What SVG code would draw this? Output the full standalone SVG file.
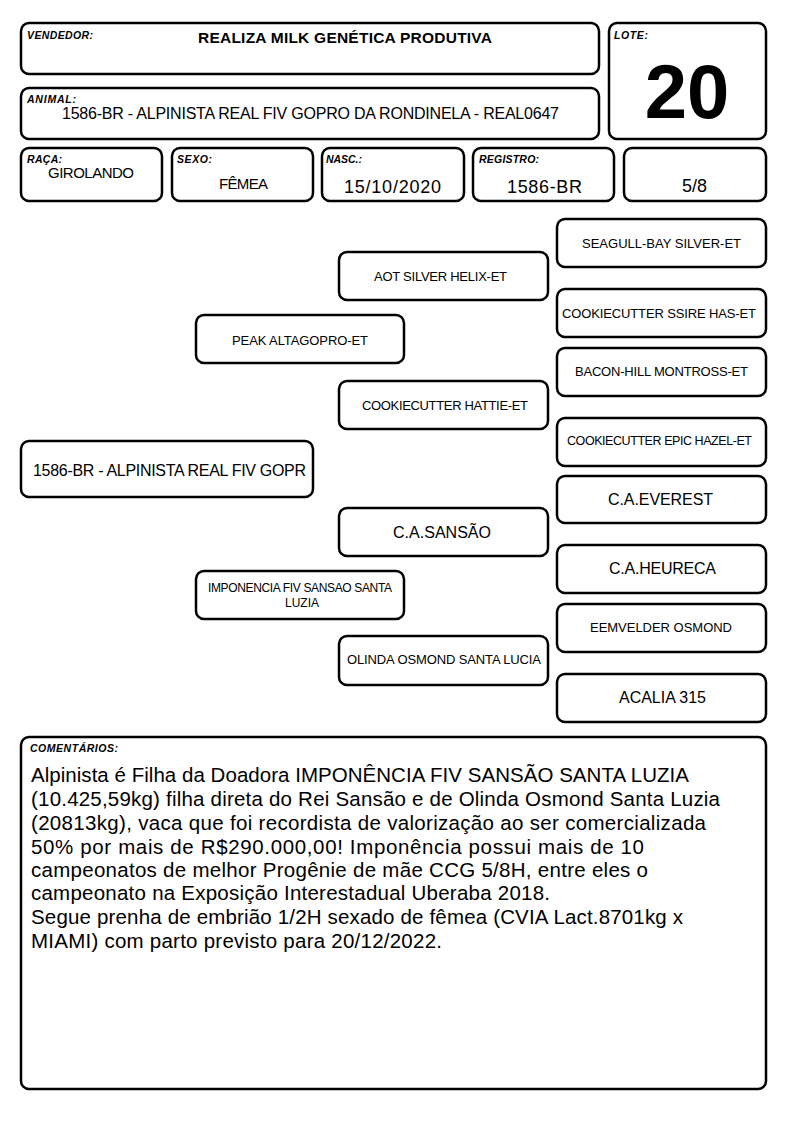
<svg xmlns="http://www.w3.org/2000/svg" width="794" height="1123" viewBox="0 0 794 1123">
<style>
.box{fill:#fff;stroke:#000;stroke-width:2.5}
.lbl{font-family:"Liberation Sans",Arial,sans-serif;font-size:10.5px;font-weight:bold;font-style:italic;fill:#000}
.t{font-family:"Liberation Sans",Arial,sans-serif;fill:#000}
.p{font-family:"Liberation Sans",Arial,sans-serif;font-size:13px;fill:#000}
.pl{font-family:"Liberation Sans",Arial,sans-serif;font-size:16px;fill:#000}
.c{font-family:"Liberation Sans",Arial,sans-serif;font-size:20.5px;fill:#000}
</style>
<rect width="794" height="1123" fill="#fff"/>
<g id="vendedor"><rect class="box" x="21" y="23" width="578" height="51" rx="8"/><text class="lbl" x="27" y="39" textLength="66">VENDEDOR:</text><text class="t" x="198" y="43" font-size="15.5" font-weight="bold" textLength="294">REALIZA MILK GENÉTICA PRODUTIVA</text></g>
<g id="animal"><rect class="box" x="21" y="88" width="578" height="51" rx="8"/><text class="lbl" x="27" y="103" textLength="49">ANIMAL:</text><text class="t" x="62" y="119" font-size="16" textLength="497">1586-BR - ALPINISTA REAL FIV GOPRO DA RONDINELA - REAL0647</text></g>
<g id="lote"><rect class="box" x="609" y="23" width="157" height="116" rx="8"/><text class="lbl" x="614" y="39" textLength="34">LOTE:</text><text class="t" x="687" y="118" font-size="76" font-weight="bold" text-anchor="middle">20</text></g>
<g id="raca"><rect class="box" x="21" y="148" width="141" height="53" rx="8"/><text class="lbl" x="27" y="163" textLength="35">RAÇA:</text><text class="t" x="48" y="178" font-size="15" textLength="86">GIROLANDO</text></g>
<g id="sexo"><rect class="box" x="172" y="148" width="141" height="53" rx="8"/><text class="lbl" x="177" y="163" textLength="35">SEXO:</text><text class="t" x="219" y="189" font-size="15" textLength="49">FÊMEA</text></g>
<g id="nasc"><rect class="box" x="322" y="148" width="142" height="53" rx="8"/><text class="lbl" x="326" y="163" textLength="36">NASC.:</text><text class="t" x="344" y="193" font-size="18" textLength="97">15/10/2020</text></g>
<g id="registro"><rect class="box" x="473" y="148" width="141" height="53" rx="8"/><text class="lbl" x="479" y="163" textLength="60">REGISTRO:</text><text class="t" x="507" y="193" font-size="18" textLength="75">1586-BR</text></g>
<g id="grau"><rect class="box" x="624" y="148" width="142" height="53" rx="8"/><text class="t" x="682" y="192" font-size="18" textLength="25">5/8</text></g>

<g id="connectors"></g>

<g id="n-seagull"><rect class="box" x="557" y="219" width="209" height="48" rx="8"/><text class="p" x="582" y="248" textLength="159">SEAGULL-BAY SILVER-ET</text></g>
<g id="n-aot"><rect class="box" x="339" y="252" width="209" height="48" rx="8"/><text class="p" x="374" y="281" textLength="133">AOT SILVER HELIX-ET</text></g>
<g id="n-ssire"><rect class="box" x="557" y="289" width="209" height="48" rx="8"/><text class="p" x="562" y="318" textLength="194">COOKIECUTTER SSIRE HAS-ET</text></g>
<g id="n-peak"><rect class="box" x="196" y="315" width="208" height="48" rx="8"/><text class="p" x="232" y="345" textLength="136">PEAK ALTAGOPRO-ET</text></g>
<g id="n-bacon"><rect class="box" x="557" y="348" width="209" height="48" rx="8"/><text class="p" x="575" y="376" textLength="173">BACON-HILL MONTROSS-ET</text></g>
<g id="n-hattie"><rect class="box" x="339" y="381" width="209" height="48" rx="8"/><text class="p" x="362" y="410" textLength="166">COOKIECUTTER HATTIE-ET</text></g>
<g id="n-hazel"><rect class="box" x="557" y="418" width="209" height="48" rx="8"/><text class="t" x="567" y="445" font-size="12.5" textLength="185">COOKIECUTTER EPIC HAZEL-ET</text></g>
<g id="n-animal"><rect class="box" x="21" y="441" width="292" height="56" rx="8"/><text class="pl" x="33" y="476" textLength="273">1586-BR - ALPINISTA REAL FIV GOPR</text></g>
<g id="n-everest"><rect class="box" x="557" y="476" width="209" height="47" rx="8"/><text class="pl" x="608" y="505" textLength="105">C.A.EVEREST</text></g>
<g id="n-sansao"><rect class="box" x="339" y="508" width="209" height="48" rx="8"/><text class="pl" x="393" y="538" textLength="98">C.A.SANSÃO</text></g>
<g id="n-heureca"><rect class="box" x="557" y="545" width="209" height="48" rx="8"/><text class="pl" x="609" y="574" textLength="107">C.A.HEURECA</text></g>
<g id="n-imponencia"><rect class="box" x="196" y="571" width="208" height="48" rx="8"/><text class="t" x="208" y="592" font-size="12" textLength="184">IMPONENCIA FIV SANSAO SANTA</text><text class="t" x="302" y="607" font-size="12" text-anchor="middle">LUZIA</text></g>
<g id="n-eemvelder"><rect class="box" x="557" y="604" width="209" height="48" rx="8"/><text class="p" x="590" y="632" textLength="142">EEMVELDER OSMOND</text></g>
<g id="n-olinda"><rect class="box" x="339" y="636" width="209" height="49" rx="8"/><text class="p" x="347" y="664" textLength="194">OLINDA OSMOND SANTA LUCIA</text></g>
<g id="n-acalia"><rect class="box" x="557" y="674" width="209" height="48" rx="8"/><text class="pl" x="619" y="703" textLength="87">ACALIA 315</text></g>

<g id="comentarios"><rect class="box" x="21" y="737" width="745" height="352" rx="8"/><text class="lbl" x="30" y="752" textLength="88">COMENTÁRIOS:</text>
<text class="c" x="31" y="782" textLength="658">Alpinista é Filha da Doadora IMPONÊNCIA FIV SANSÃO SANTA LUZIA</text>
<text class="c" x="31" y="806" textLength="689">(10.425,59kg) filha direta do Rei Sansão e de Olinda Osmond Santa Luzia</text>
<text class="c" x="31" y="830" textLength="675">(20813kg), vaca que foi recordista de valorização ao ser comercializada</text>
<text class="c" x="31" y="854" textLength="613">50% por mais de R$290.000,00! Imponência possui mais de 10</text>
<text class="c" x="31" y="877" textLength="617">campeonatos de melhor Progênie de mãe CCG 5/8H, entre eles o</text>
<text class="c" x="31" y="900" textLength="519">campeonato na Exposição Interestadual Uberaba 2018.</text>
<text class="c" x="31" y="924" textLength="652">Segue prenha de embrião 1/2H sexado de fêmea (CVIA Lact.8701kg x</text>
<text class="c" x="31" y="948" textLength="411">MIAMI) com parto previsto para 20/12/2022.</text>
</g>
</svg>
